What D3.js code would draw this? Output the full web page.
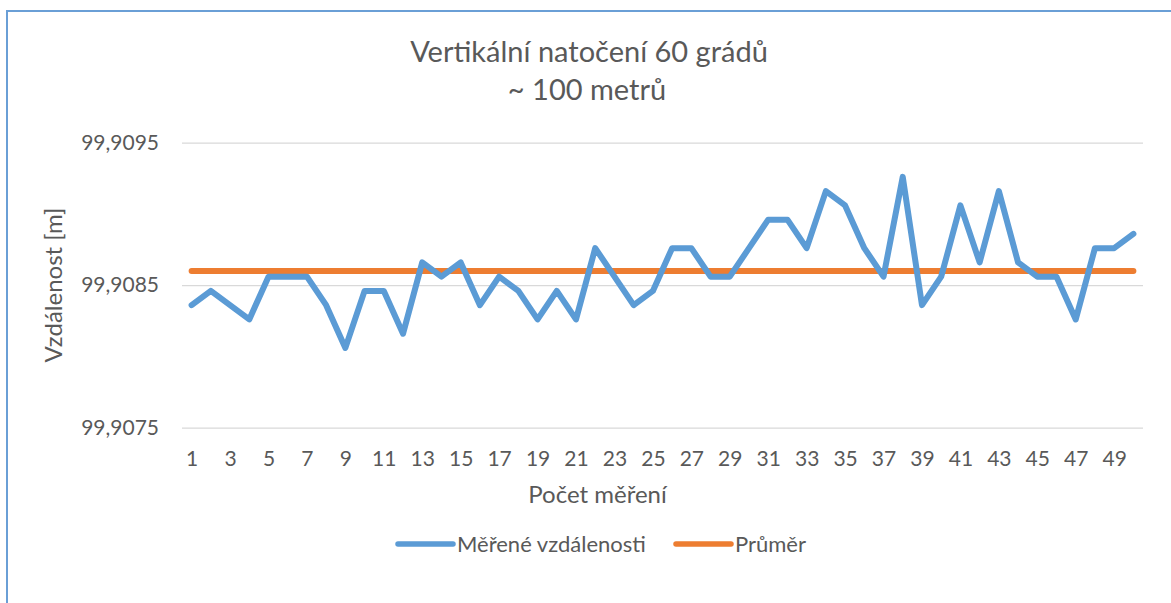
<!DOCTYPE html>
<html>
<head>
<meta charset="utf-8">
<script src="https://cdn.jsdelivr.net/npm/d3@7"></script>
<style>
  body { margin: 0; background: #fff; }
  svg { display: block; font-family: Lato, "Open Sans", sans-serif; }
</style>
</head>
<body>
<svg id="chart"></svg>
<script>
// Data
const mereni = [1, 2, 3, 4, 5, 6, 7, 8, 9, 10, 11, 12, 13, 14, 15, 16, 17, 18, 19, 20,
                21, 22, 23, 24, 25, 26, 27, 28, 29, 30, 31, 32, 33, 34, 35, 36, 37, 38, 39, 40,
                41, 42, 43, 44, 45, 46, 47, 48, 49, 50];

const vzdalenosti = [
    99.90836, 99.90846, 99.90836, 99.90826, 99.90856, 99.90856, 99.90856, 99.90836, 99.90806, 99.90846,
    99.90846, 99.90816, 99.90866, 99.90856, 99.90866, 99.90836, 99.90856, 99.90846, 99.90826, 99.90846,
    99.90826, 99.90876, 99.90856, 99.90836, 99.90846, 99.90876, 99.90876, 99.90856, 99.90856, 99.90876,
    99.90896, 99.90896, 99.90876, 99.90916, 99.90906, 99.90876, 99.90856, 99.90926, 99.90836, 99.90856,
    99.90906, 99.90866, 99.90916, 99.90866, 99.90856, 99.90856, 99.90826, 99.90876, 99.90876, 99.90886
];

const prumer = 99.9086;

const xTicks = [1, 3, 5, 7, 9, 11, 13, 15, 17, 19, 21, 23, 25, 27, 29, 31, 33, 35, 37, 39, 41, 43, 45, 47, 49];
const yTicks = [99.9075, 99.9085, 99.9095];

const titleLines = ["Vertikální natočení 60 grádů", "~ 100 metrů"];

// Layout
const W = 1171, H = 603;
const plot = { left: 182, right: 1143, top: 142.7, bottom: 427.7 };
const textColor = "#595959";
const modra = "#5B9BD5", oranzova = "#ED7D31";

const svg = d3.select("#chart")
    .attr("width", W)
    .attr("height", H);

// Chart border (runs off the right and bottom)
svg.append("rect")
    .attr("x", 7)
    .attr("y", 11)
    .attr("width", 1300)
    .attr("height", 800)
    .attr("fill", "none")
    .attr("stroke", "#6A9FD6")
    .attr("stroke-width", 2);

// Scales
const x = d3.scalePoint()
    .domain(mereni)
    .range([plot.left, plot.right])
    .padding(0.5);

const y = d3.scaleLinear()
    .domain([yTicks[0], yTicks[yTicks.length - 1]])
    .range([plot.bottom, plot.top]);

// Y axis with gridlines
const yAxis = svg.append("g")
    .attr("transform", `translate(${plot.left},0)`)
    .call(d3.axisLeft(y)
        .tickValues(yTicks)
        .tickSize(-(plot.right - plot.left))
        .tickPadding(23)
        .tickFormat(d => d3.format(".4f")(d).replace(".", ",")));

yAxis.select(".domain").remove();
yAxis.selectAll(".tick line")
    .attr("stroke", "#D9D9D9")
    .attr("stroke-width", 1.3);
yAxis.selectAll(".tick text")
    .attr("fill", textColor)
    .style("font-size", "21px")
    .style("font-family", "Lato, sans-serif");

// X axis
const xAxis = svg.append("g")
    .attr("transform", `translate(0,${plot.bottom})`)
    .call(d3.axisBottom(x)
        .tickValues(xTicks)
        .tickSize(0)
        .tickPadding(23));

xAxis.select(".domain").remove();
xAxis.selectAll(".tick text")
    .attr("fill", textColor)
    .style("font-size", "21px")
    .style("font-family", "Lato, sans-serif");

// Lines
const line = d3.line()
    .x((d, i) => x(mereni[i]))
    .y(d => y(d));

svg.append("path")
    .datum(mereni.map(() => prumer))
    .attr("fill", "none")
    .attr("stroke", oranzova)
    .attr("stroke-width", 6)
    .attr("stroke-linecap", "round")
    .attr("d", line);

svg.append("path")
    .datum(vzdalenosti)
    .attr("fill", "none")
    .attr("stroke", modra)
    .attr("stroke-width", 6)
    .attr("stroke-linecap", "round")
    .attr("stroke-linejoin", "round")
    .attr("d", line);

// Title
svg.append("text")
    .attr("x", 589)
    .attr("y", 62)
    .attr("text-anchor", "middle")
    .attr("fill", textColor)
    .style("font-size", "29px")
    .text(titleLines[0]);

svg.append("text")
    .attr("x", 587)
    .attr("y", 100)
    .attr("text-anchor", "middle")
    .attr("fill", textColor)
    .style("font-size", "29px")
    .text(titleLines[1]);

// Axis titles
svg.append("text")
    .attr("x", (plot.left + plot.right) / 2 - 65)
    .attr("y", 503)
    .attr("text-anchor", "middle")
    .attr("fill", textColor)
    .style("font-size", "24px")
    .text("Počet měření");

svg.append("text")
    .attr("transform", "translate(62,285) rotate(-90)")
    .attr("text-anchor", "middle")
    .attr("fill", textColor)
    .style("font-size", "24px")
    .text("Vzdálenost [m]");

// Legend
const legenda = [
    { name: "Měřené vzdálenosti", color: modra, x: 398 },
    { name: "Průměr", color: oranzova, x: 676 }
];

const leg = svg.append("g").attr("transform", "translate(0,544)");

legenda.forEach(d => {
    leg.append("line")
        .attr("x1", d.x)
        .attr("x2", d.x + 55)
        .attr("stroke", d.color)
        .attr("stroke-width", 5.5)
        .attr("stroke-linecap", "round");
    leg.append("text")
        .attr("x", d.x + 59)
        .attr("y", 7.5)
        .attr("fill", textColor)
        .style("font-size", "22px")
        .text(d.name);
});
</script>
</body>
</html>
